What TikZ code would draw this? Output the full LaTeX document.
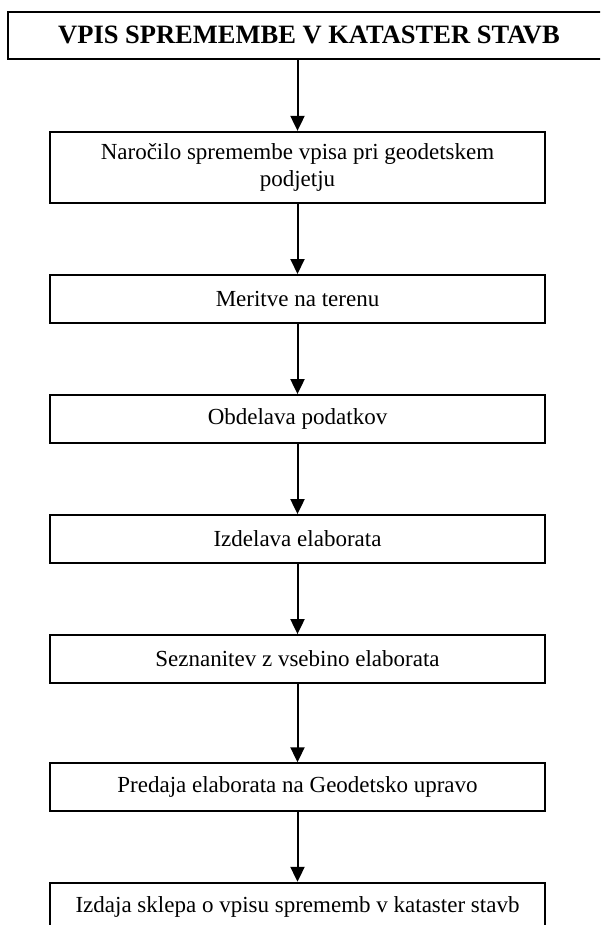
\documentclass[tikz,border=0pt]{standalone}
\usepackage{fontspec}
\setmainfont{Liberation Serif}
\usetikzlibrary{arrows.meta}
\tikzset{
  stage/.style={
    % The shape:
    rectangle,
    % The size:
    minimum width=495pt,
    minimum height=48pt,
    inner ysep=11.5pt,
    % The border:
    draw=black,
    line width=1.8pt,
    % Font
    font=\fontsize{23}{27}\selectfont,
    align=center
  },
  heading/.style={
    % wider than the page, the right side is cut off
    rectangle,
    minimum width=602pt,
    minimum height=47.3pt,
    draw=black,
    line width=2pt,
    font=\fontsize{26.5}{31}\selectfont\bfseries
  },
  flow/.style={-{Triangle[width=14pt,length=15pt]}, line width=2pt}
}
\begin{document}
\begin{tikzpicture}[x=1pt, y=-1pt]

  \useasboundingbox (0, 0) rectangle (600, 925);
  \clip (0, 0) rectangle (600, 925);

  \node at (309, 35.4) (title) [heading] {VPIS SPREMEMBE V KATASTER STAVB};

  \node at (297.5, 167.2) (order) [stage] {Naročilo spremembe vpisa pri geodetskem\\podjetju};
  \node at (297.5, 298.9) (survey) [stage] {Meritve na terenu};
  \node at (297.5, 419) (process) [stage] {Obdelava podatkov};
  \node at (297.5, 539) (report) [stage] {Izdelava elaborata};
  \node at (297.5, 659) (review) [stage] {Seznanitev z vsebino elaborata};
  \node at (297.5, 787.2) (submit) [stage] {Predaja elaborata na Geodetsko upravo};
  \node at (297.5, 906.7) (decision) [stage] {Izdaja sklepa o vpisu sprememb v kataster stavb};

  % \draw (title) to (order);
  \draw [flow] (title.south -| order.north) to (order.north);
  \draw [flow] (order) to (survey);
  \draw [flow] (survey) to (process);
  \draw [flow] (process) to (report);
  \draw [flow] (report) to (review);
  \draw [flow] (review) to (submit);
  \draw [flow] (submit) to (decision);

\end{tikzpicture}
\end{document}
